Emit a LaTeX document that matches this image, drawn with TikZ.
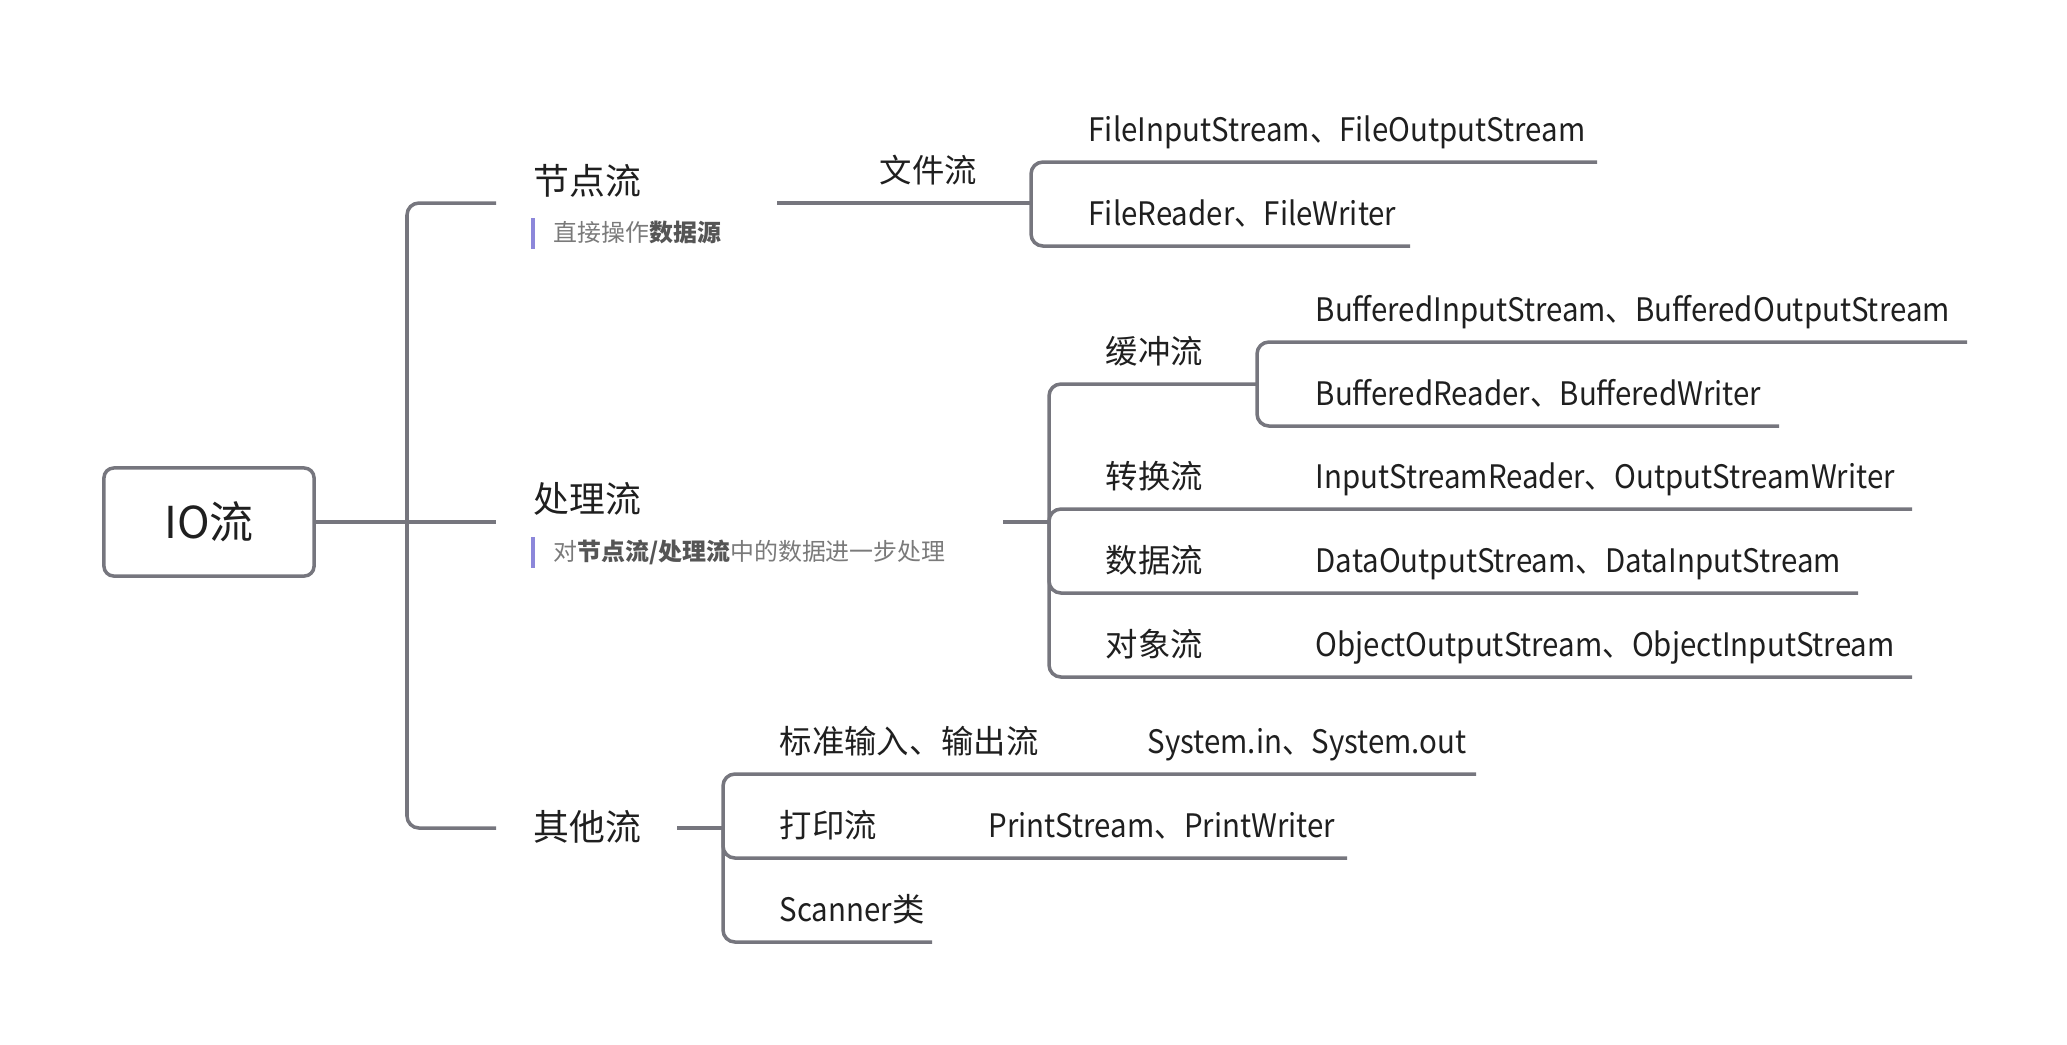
\documentclass[tikz,border=0pt]{standalone}
\usepackage{fontspec}
\setmainfont{Noto Sans CJK SC}
\newfontfamily\latinnarrow[FakeStretch=0.91]{Noto Sans CJK SC}
\definecolor{branch}{HTML}{76767E}
\definecolor{ink}{HTML}{1F1F1F}
\definecolor{note}{HTML}{7A7A7A}
\definecolor{notedark}{HTML}{555555}
\definecolor{notebar}{HTML}{8C87DA}
\newcommand{\notebf}[1]{{\bfseries\color{notedark}#1}}

\begin{document}
\begin{tikzpicture}[x=0.01cm,y=-0.01cm,
  branch/.style={draw=branch,line width=1pt,rounded corners=3.4pt},
  topic/.style={anchor=base west,inner sep=0pt,text=ink,font=\fontsize{10.2}{12}\selectfont},
  subtopic/.style={anchor=base west,inner sep=0pt,text=ink,font=\fontsize{9.2}{11}\selectfont},
  leaf/.style={subtopic,font=\latinnarrow\fontsize{9.2}{11}\selectfont},
  notetext/.style={anchor=base west,inner sep=0pt,text=note,font=\fontsize{6.8}{8}\selectfont},
  notemark/.style={draw=notebar,line width=0.9pt}]
  \useasboundingbox (0,0) rectangle (2067,1044);

  % root
  \node[draw=branch,line width=1pt,rounded corners=2.8pt,minimum width=2.1cm,minimum height=1.08cm,
        text=ink,font=\fontsize{12.5}{14}\selectfont] (root) at (209,522) {IO流};

  % first level
  \coordinate (t0) at (407,522);
  \coordinate (jd-in) at (496,203);  \coordinate (jd-out) at (777,203);
  \coordinate (cl-in) at (496,522);  \coordinate (cl-out) at (1003,522);
  \coordinate (qt-in) at (496,828);  \coordinate (qt-out) at (677,828);
  \draw[branch] (root.east) -- (t0) -- (cl-in);
  \draw[branch] (t0) |- (jd-in);
  \draw[branch] (t0) |- (qt-in);

  \node[topic] (jd) at (533,194) {节点流};
  \draw[notemark] (533,218) -- (533,249);
  \node[notetext] (jd-note) at (553,241) {直接操作\notebf{数据源}};
  \node[topic] (cl) at (533,512) {处理流};
  \draw[notemark] (533,537) -- (533,568);
  \node[notetext] (cl-note) at (553,560) {对\notebf{节点流/处理流}中的数据进一步处理};
  \node[topic,anchor=west] (qt) at (533,827) {其他流};

  % 节点流
  \coordinate (wj) at (1031,203);
  \coordinate (fis-e) at (1597,162);
  \coordinate (fr-e) at (1410,246);
  \draw[branch] (jd-out) -- (wj);
  \draw[branch] (wj) |- (fis-e);
  \draw[branch] (wj) |- (fr-e);
  \node[subtopic] (wjl) at (879,182) {文件流};
  \node[leaf] (fis) at (1088,141) {FileInputStream、FileOutputStream};
  \node[leaf] (fr) at (1088,225) {FileReader、FileWriter};

  % 处理流
  \coordinate (cl-j) at (1049,522);
  \coordinate (hc-j) at (1257,384);
  \coordinate (bis-e) at (1967,342);
  \coordinate (br-e) at (1779,426);
  \coordinate (zh-e) at (1912,509);
  \coordinate (sj-e) at (1858,593);
  \coordinate (dx-e) at (1912,677);
  \draw[branch] (cl-out) -- (cl-j);
  \draw[branch] (cl-j) |- (hc-j);
  \draw[branch] (hc-j) |- (bis-e);
  \draw[branch] (hc-j) |- (br-e);
  \draw[branch] (cl-j) |- (zh-e);
  \draw[branch] (cl-j) |- (sj-e);
  \draw[branch] (cl-j) |- (dx-e);
  \node[subtopic] (hcl) at (1105,363) {缓冲流};
  \node[leaf] (bis) at (1315,321) {BufferedInputStream、BufferedOutputStream};
  \node[leaf] (br) at (1315,405) {BufferedReader、BufferedWriter};
  \node[subtopic] (zhl) at (1105,488) {转换流};
  \node[leaf] (isr) at (1315,488) {InputStreamReader、OutputStreamWriter};
  \node[subtopic] (sjl) at (1105,572) {数据流};
  \node[leaf] (dos) at (1315,572) {DataOutputStream、DataInputStream};
  \node[subtopic] (dxl) at (1105,656) {对象流};
  \node[leaf] (oos) at (1315,656) {ObjectOutputStream、ObjectInputStream};

  % 其他流
  \coordinate (qt-j) at (723,828);
  \coordinate (bz-e) at (1476,774);
  \coordinate (dy-e) at (1347,858);
  \coordinate (sc-e) at (932,942);
  \draw[branch] (qt-out) -- (qt-j);
  \draw[branch] (qt-j) |- (bz-e);
  \draw[branch] (qt-j) |- (dy-e);
  \draw[branch] (qt-j) |- (sc-e);
  \node[subtopic] (bzl) at (779,753) {标准输入、输出流};
  \node[leaf] (sys) at (1147,753) {System.in、System.out};
  \node[subtopic] (dyl) at (779,837) {打印流};
  \node[leaf] (ps) at (988,837) {PrintStream、PrintWriter};
  \node[subtopic] (scl) at (779,921) {{\latinnarrow Scanner}类};
\end{tikzpicture}
\end{document}
